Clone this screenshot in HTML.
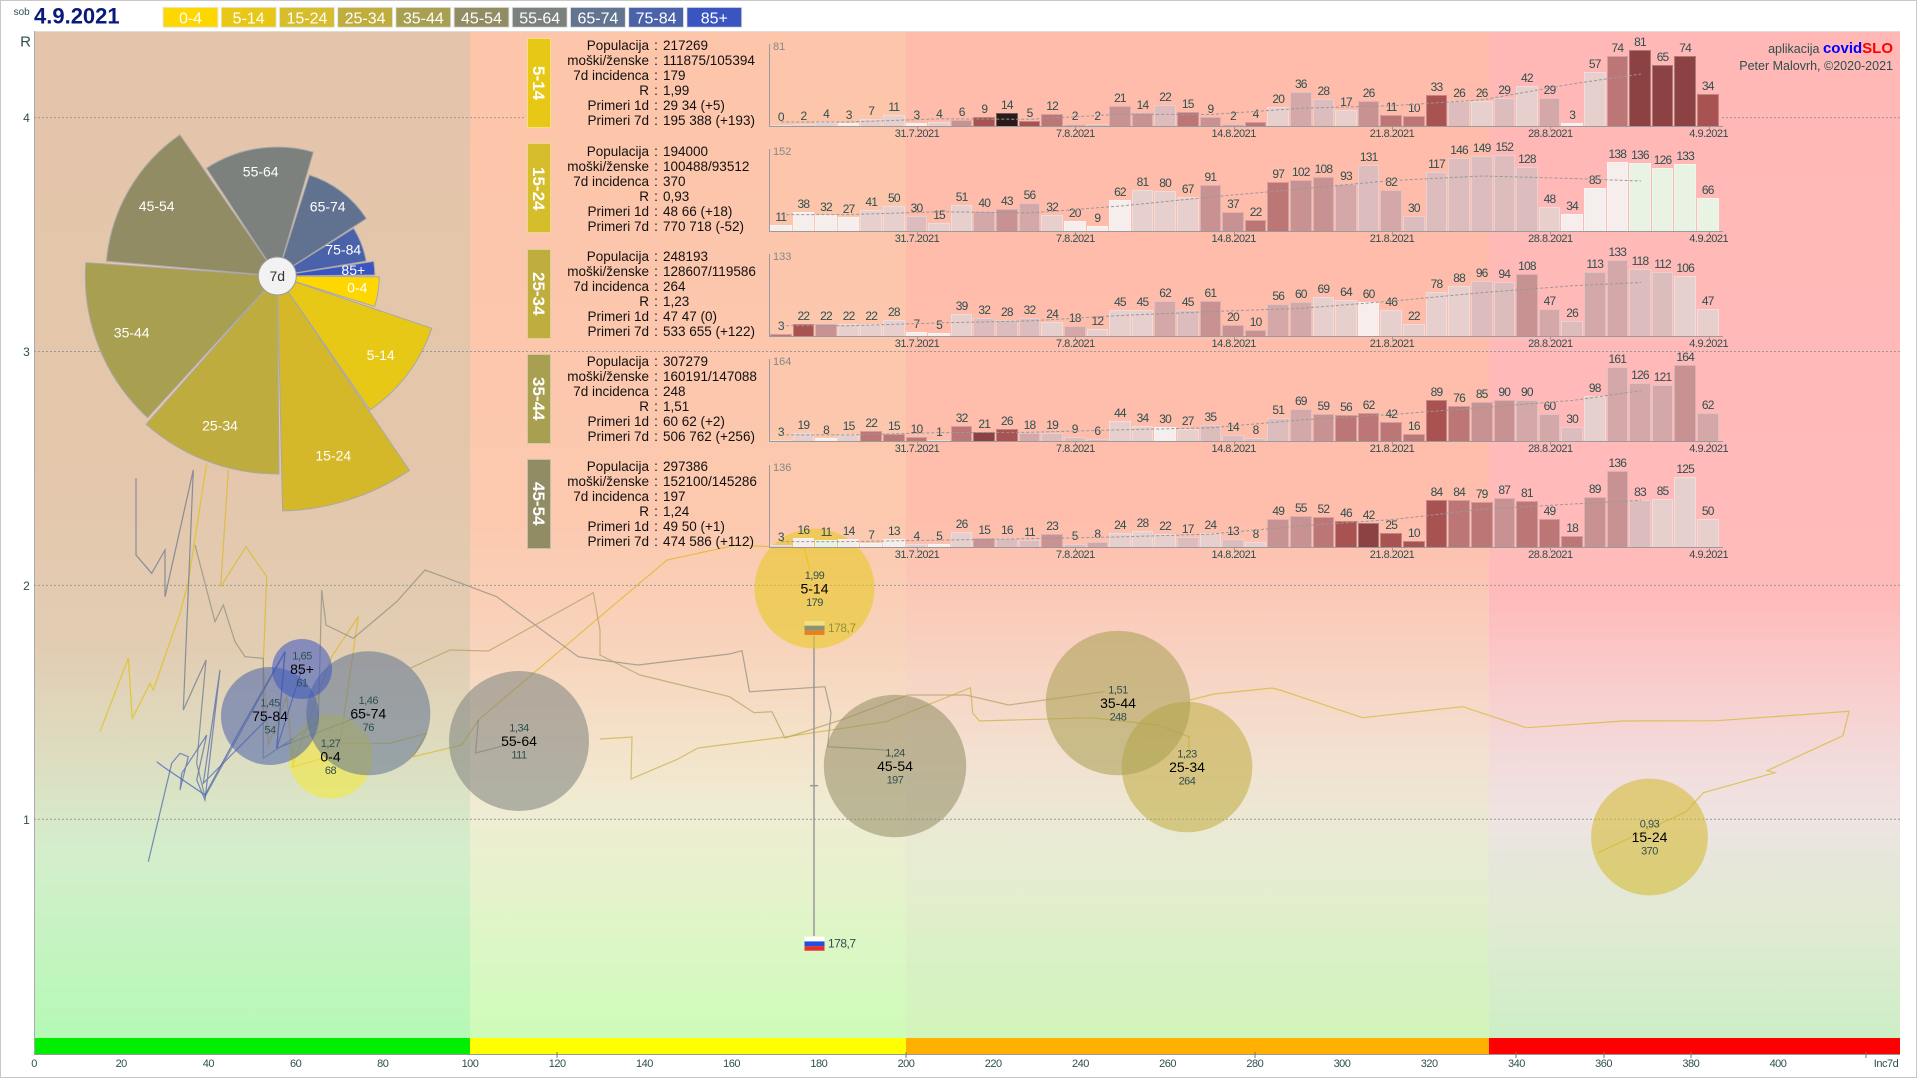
<!DOCTYPE html>
<html><head><meta charset="utf-8">
<style>
*{margin:0;padding:0}
body{width:1920px;height:1080px;overflow:hidden;background:#fff;font-family:"Liberation Sans","DejaVu Sans",sans-serif}
#root{position:relative;width:1920px;height:1080px;overflow:hidden;background:#fff}
svg text{font-family:"Liberation Sans","DejaVu Sans",sans-serif}
.pn{position:absolute;left:0;width:1920px;height:110px}
.tag{position:absolute;left:527px;top:2.6px;width:24px;height:90px;writing-mode:vertical-rl;color:#fff;font:bold 17px/24px "Liberation Sans",sans-serif;text-align:center;box-sizing:border-box;border:1px solid rgba(255,255,255,.45)}
.info{position:absolute;left:555px;top:2.8px;font:13.5px/15px "Liberation Sans",sans-serif;color:#111;white-space:nowrap}
.info .l{display:inline-block;width:94px;text-align:right}
.info .o{display:inline-block;width:14px;text-align:center}
.ax{position:absolute;left:769px;top:8px;width:953px;height:82px;border-left:1px solid #9a9a9a;border-bottom:1.5px solid #9a9a9a}
.mx{position:absolute;left:773px;top:5px;font:11px "Liberation Sans",sans-serif;color:#888}
.bars{position:absolute;left:770px;top:0;width:950px;height:90px;display:flex;align-items:flex-end}
.bars i{display:block;position:relative;width:21.62px;margin-right:1px;flex:none;height:calc(var(--v)*var(--s));box-sizing:border-box;border:1px solid rgba(255,255,255,.3);border-bottom:0}
.bars b{position:absolute;bottom:100%;left:-8px;right:-8px;text-align:center;font:12px/13px "Liberation Sans",sans-serif;letter-spacing:-0.8px;color:#2f4f4f;font-weight:normal;padding-bottom:2px}
.ma{position:absolute;left:770px;top:0}
.dt{position:absolute;top:92px;font:11px "Liberation Sans",sans-serif;letter-spacing:-0.5px;color:#2f4f4f;transform:translateX(-50%)}
.tk{position:absolute;top:90px;width:1px;height:4px;background:#999}
.bars .w{background:#f6eeec}.bars .g{background:#e8f3e4}.bars .a{background:#e6cfcd}.bars .b{background:#dcbcbc}.bars .c{background:#d4a8a8}.bars .d{background:#c99292}.bars .e{background:#bd7676}.bars .f{background:#a85252}.bars .h{background:#8c4242}.bars .k{background:#2a1a1a}
</style></head><body><div id="root">
<svg width="1920" height="1080" style="position:absolute;left:0;top:0">
<defs>
<linearGradient id="gA" gradientUnits="userSpaceOnUse" x1="0" y1="31" x2="0" y2="1038">
<stop offset="0" stop-color="#e4c5ab"/><stop offset="0.42" stop-color="#e4c6ab"/><stop offset="0.615" stop-color="#e2cdb3"/><stop offset="0.715" stop-color="#dedcc0"/><stop offset="0.815" stop-color="#d4eecc"/><stop offset="1" stop-color="#b5f9b5"/></linearGradient>
<linearGradient id="gB" gradientUnits="userSpaceOnUse" x1="0" y1="31" x2="0" y2="1038">
<stop offset="0" stop-color="#fdc5aa"/><stop offset="0.48" stop-color="#fcc8ae"/><stop offset="0.61" stop-color="#f8d3bb"/><stop offset="0.715" stop-color="#f4e3cb"/><stop offset="0.78" stop-color="#eeedd3"/><stop offset="0.85" stop-color="#e6f2cc"/><stop offset="0.93" stop-color="#d8f8c2"/><stop offset="1" stop-color="#cefbb8"/></linearGradient>
<linearGradient id="gC" gradientUnits="userSpaceOnUse" x1="0" y1="31" x2="0" y2="1038">
<stop offset="0" stop-color="#ffbcab"/><stop offset="0.48" stop-color="#ffbdab"/><stop offset="0.61" stop-color="#f9d0bf"/><stop offset="0.715" stop-color="#f3e0d0"/><stop offset="0.78" stop-color="#ece8d4"/><stop offset="0.85" stop-color="#e4edd0"/><stop offset="0.93" stop-color="#d8f1c4"/><stop offset="1" stop-color="#d2f5b9"/></linearGradient>
<linearGradient id="gD" gradientUnits="userSpaceOnUse" x1="0" y1="31" x2="0" y2="1038">
<stop offset="0" stop-color="#ffb8b5"/><stop offset="0.56" stop-color="#ffbaba"/><stop offset="0.665" stop-color="#f8d0d0"/><stop offset="0.73" stop-color="#f2dcdc"/><stop offset="0.785" stop-color="#eee4e2"/><stop offset="0.83" stop-color="#e6e7da"/><stop offset="0.88" stop-color="#e2ead4"/><stop offset="1" stop-color="#cdeec5"/></linearGradient>
</defs>
<rect x="0.5" y="0.5" width="1916" height="1077" fill="#fff" stroke="#c8c8c8"/>
<rect x="34" y="31" width="436" height="1007" fill="url(#gA)"/>
<rect x="470" y="31" width="436" height="1007" fill="url(#gB)"/>
<rect x="906" y="31" width="583" height="1007" fill="url(#gC)"/>
<rect x="1489" y="31" width="411" height="1007" fill="url(#gD)"/>
<rect x="34" y="1038" width="436" height="16" fill="#00ee00"/>
<rect x="470" y="1038" width="436" height="16" fill="#ffff00"/>
<rect x="906" y="1038" width="583" height="16" fill="#ffb000"/>
<rect x="1489" y="1038" width="411" height="16" fill="#ff0000"/>
<line x1="34" y1="31.5" x2="1900" y2="31.5" stroke="#ddd"/>
<line x1="34.5" y1="31" x2="34.5" y2="1054" stroke="#aaa"/>
<line x1="34" y1="1054.5" x2="1900" y2="1054.5" stroke="#999"/>
<g stroke="#9a9a9a" stroke-dasharray="2,2" stroke-width="1">
<line x1="34" y1="117.6" x2="526" y2="117.6"/><line x1="1722" y1="117.6" x2="1900" y2="117.6"/>
<line x1="34" y1="351.5" x2="1900" y2="351.5"/>
<line x1="34" y1="585.4" x2="1900" y2="585.4"/>
<line x1="34" y1="819.3" x2="1900" y2="819.3"/>
</g>
<g stroke="#777" stroke-width="1">
<line x1="557" y1="1052" x2="557" y2="1058"/><line x1="906" y1="1052" x2="906" y2="1058"/><line x1="1255" y1="1052" x2="1255" y2="1058"/><line x1="1516" y1="1052" x2="1516" y2="1058"/><line x1="1604" y1="1052" x2="1604" y2="1058"/><line x1="1691" y1="1052" x2="1691" y2="1058"/><line x1="1866" y1="1052" x2="1866" y2="1058"/>
</g>
<text x="25.5" y="46.7" font-size="15" fill="#2f4f4f" text-anchor="middle">R</text>
<g font-size="12" fill="#2f4f4f" text-anchor="middle">
<text x="26.5" y="122">4</text><text x="26.5" y="356">3</text><text x="26.5" y="590">2</text><text x="26.5" y="824">1</text>
</g>
<g font-size="11" fill="#2f4f4f" text-anchor="middle" letter-spacing="-0.5">
<text x="34" y="1067">0</text><text x="121.2" y="1067">20</text><text x="208.4" y="1067">40</text><text x="295.6" y="1067">60</text><text x="382.8" y="1067">80</text><text x="470" y="1067">100</text><text x="557.2" y="1067">120</text><text x="644.4" y="1067">140</text><text x="731.6" y="1067">160</text><text x="818.8" y="1067">180</text><text x="906" y="1067">200</text><text x="993.2" y="1067">220</text><text x="1080.4" y="1067">240</text><text x="1167.6" y="1067">260</text><text x="1254.8" y="1067">280</text><text x="1342" y="1067">300</text><text x="1429.2" y="1067">320</text><text x="1516.4" y="1067">340</text><text x="1603.6" y="1067">360</text><text x="1690.8" y="1067">380</text><text x="1778" y="1067">400</text><text x="1886" y="1067">Inc7d</text>
</g>
<!-- trajectories -->
<g fill="none" stroke-width="1.2" stroke-opacity="0.7">
<polyline stroke="#d8b820" points="291.7,768.3 331.7,656.7 358.3,616.7 340,743.3 390,743.3 426.7,733.3 413.3,756.7 461.7,745 478.3,720 600,616.7 667,560 736,545 804.5,548.3 810,570"/>
<polyline stroke="#e0c000" points="100,731.7 128.3,658.3 132.3,718.3 150,683.3 153.3,690 180,613.3 188.3,581.7 206.7,463.3"/>
<polyline stroke="#d8b820" points="228.3,470 220.7,586.7 246,546.7 266.7,576.7 263.3,663.3 268.3,745 286.7,696.7 293.3,766.7 330,756"/>
<polyline stroke="#4a62aa" points="148.3,861.7 171.7,763.3 180,753.3 188.3,756.7 180,790 181.7,773.3 206.7,735 196.7,780 205,800 220,670 203.3,783.3 270,716"/>
<polyline stroke="#3a55c0" points="156.7,761.7 163.3,766.7 205,795 240,730 285,651.7 276.7,748.3 302,669"/>
<polyline stroke="#617290" points="136,478.3 136,555 151.7,573.3 165,550 165,596.7 193.3,470 183.3,710 206,660 196.7,763.3 205,796.7 285,651.7 276.7,748.3 368,713"/>
<polyline stroke="#8a8a80" points="195,545 215,621.7 223.3,605 235,641.7 245,656.7 263.3,658.3 263.3,758.3 318.3,721.7 321.7,590 326,625 353.3,638.3 396.7,601.7 425,570 443.3,576.7 496.7,596.7 578.3,656.7 600,660 638,665 729.5,654 742,650.7 749.5,691.7 825,686.7 831,712.7 827.7,746.7 885.7,750"/>
<polyline stroke="#8a8a80" points="478.3,720 475.7,753 500,746.7 519,741"/>
<polyline stroke="#b0a060" points="410,668.3 450,650 488.3,651 593.3,592.7 600,630 600,655 640,675 729.5,696.7 754,712.7 772,711.7 785,738 841,720 908,695 966,695 1008.5,705 1104.4,691.7"/>
<polyline stroke="#c8b040" points="600,739 632,737 631,779 678,759 698,748 785,737 886,721.7 970.5,687.7 972.7,713 979.4,721 1091,717.7 1158,725 1189,736.7 1189,753"/>
<polyline stroke="#d4b82a" points="1190,700 1214,694 1272,688 1280,690 1362.4,717.7 1462.8,706.7 1526.4,727.7 1622.7,721 1716.6,720.7 1849,711.3 1843,735.7 1767,770.7 1775,772.7 1703.5,792.7 1686,811.7 1597.5,853"/>
</g>
<!-- pie -->
<g stroke="#a8a8a8" stroke-width="1">
<path d="M277.3,276 L379.3,276.9 A102,102 0 0 1 374.6,306.5 Z" fill="#ffd700"/>
<path d="M277.3,276 L431.7,328.3 A163,163 0 0 1 370.1,410 Z" fill="#e8c817"/>
<path d="M277.3,276 L409.4,470.4 A235,235 0 0 1 282.6,510.9 Z" fill="#d4b82a"/>
<path d="M277.3,276 L279,474 A198,198 0 0 1 146.1,424.3 Z" fill="#bfac3e"/>
<path d="M277.3,276 L147.6,417.6 A192,192 0 0 1 85.8,262.6 Z" fill="#a89f50"/>
<path d="M277.3,276 L106.5,261.1 A171.5,171.5 0 0 1 179.9,134.8 Z" fill="#928c65"/>
<path d="M277.3,276 L206.5,168.2 A129,129 0 0 1 313.3,152.1 Z" fill="#7c817d"/>
<path d="M277.3,276 L309.4,175 A106,106 0 0 1 366.4,218.6 Z" fill="#617290"/>
<path d="M277.3,276 L353.6,228.3 A90,90 0 0 1 366.1,261.1 Z" fill="#4a62aa"/>
<path d="M277.3,276 L373.7,261.4 A97.5,97.5 0 0 1 374.8,275 Z" fill="#3a55c0"/>
</g>
<circle cx="277.3" cy="276" r="19" fill="#f2f2f2" stroke="#999"/>
<text x="277.3" y="281" font-size="14" fill="#333" text-anchor="middle">7d</text>
<g font-size="14" fill="#fff" text-anchor="middle">
<text x="260.7" y="176.7">55-64</text><text x="156.7" y="211">45-54</text><text x="327.7" y="211.7">65-74</text><text x="343.3" y="254.3">75-84</text><text x="353.3" y="275">85+</text><text x="357.3" y="292.7">0-4</text><text x="131.7" y="337.3">35-44</text><text x="380.7" y="360">5-14</text><text x="220" y="430.7">25-34</text><text x="333.3" y="460.7">15-24</text>
</g>
<!-- national marker -->
<line x1="814" y1="636" x2="814" y2="936" stroke="#999" stroke-width="1.5"/>
<line x1="810" y1="785.7" x2="818" y2="785.7" stroke="#999" stroke-width="1.5"/>
<rect x="804.5" y="621" width="20" height="4.7" fill="#fff"/><rect x="804.5" y="625.7" width="20" height="4.7" fill="#2050e0"/><rect x="804.5" y="630.4" width="20" height="4.6" fill="#e03030"/>
<text x="828" y="632" font-size="12" fill="#2f4f4f" letter-spacing="-0.5">178,7</text>
<rect x="804.5" y="936.7" width="20" height="4.7" fill="#fff"/><rect x="804.5" y="941.4" width="20" height="4.7" fill="#2050e0"/><rect x="804.5" y="946.1" width="20" height="4.6" fill="#e03030"/>
<text x="828" y="947.5" font-size="12" fill="#2f4f4f" letter-spacing="-0.5">178,7</text>
<!-- bubbles -->
<g fill-opacity="0.55">
<circle cx="330.5" cy="756.7" r="42" fill="#f2e840" fill-opacity="0.6"/>
<circle cx="814.5" cy="588.5" r="60" fill="#e8c817"/>
<circle cx="1649.5" cy="837" r="58.4" fill="#d4b82a"/>
<circle cx="1187" cy="767" r="65.3" fill="#bfac3e"/>
<circle cx="1118" cy="703" r="72.3" fill="#a89f50"/>
<circle cx="895" cy="766" r="71.2" fill="#928c65"/>
<circle cx="519" cy="741" r="70" fill="#7c817d"/>
<circle cx="368.3" cy="713.3" r="62" fill="#617290"/>
<circle cx="270" cy="716" r="49" fill="#4a62aa"/>
<circle cx="302" cy="669" r="30" fill="#3a55c0"/>
</g>
<g text-anchor="middle">
<g font-size="11" fill="#2f4f4f" letter-spacing="-0.5">
<text x="330.5" y="747">1,27</text><text x="330.5" y="774">68</text>
<text x="814.5" y="579">1,99</text><text x="814.5" y="606">179</text>
<text x="1649.5" y="827.5">0,93</text><text x="1649.5" y="854.5">370</text>
<text x="1187" y="757.5">1,23</text><text x="1187" y="784.5">264</text>
<text x="1118" y="693.5">1,51</text><text x="1118" y="720.5">248</text>
<text x="895" y="756.5">1,24</text><text x="895" y="783.5">197</text>
<text x="519" y="731.5">1,34</text><text x="519" y="758.5">111</text>
<text x="368.3" y="703.8">1,46</text><text x="368.3" y="730.8">76</text>
<text x="270" y="706.5">1,45</text><text x="270" y="733.5">54</text>
<text x="302" y="659.5">1,65</text><text x="302" y="686.5">61</text>
</g>
<g font-size="14" fill="#000">
<text x="330.5" y="761.7">0-4</text>
<text x="814.5" y="593.5">5-14</text>
<text x="1649.5" y="842">15-24</text>
<text x="1187" y="772">25-34</text>
<text x="1118" y="708">35-44</text>
<text x="895" y="771">45-54</text>
<text x="519" y="746">55-64</text>
<text x="368.3" y="718.3">65-74</text>
<text x="270" y="721">75-84</text>
<text x="302" y="674">85+</text>
</g>
</g>
<!-- header -->
<text x="13.6" y="15" font-size="10" fill="#2f4f4f">sob</text>
<text x="34" y="23.3" font-size="22" font-weight="bold" fill="#0a1a7a">4.9.2021</text>
<g stroke="#e6e6e6" stroke-width="1">
<rect x="163" y="7.3" width="55" height="20" fill="#ffd700"/>
<rect x="221.2" y="7.3" width="55" height="20" fill="#e8c817"/>
<rect x="279.4" y="7.3" width="55" height="20" fill="#d5bd2b"/>
<rect x="337.6" y="7.3" width="55" height="20" fill="#bfad3e"/>
<rect x="395.8" y="7.3" width="55" height="20" fill="#a89f50"/>
<rect x="454" y="7.3" width="55" height="20" fill="#928c65"/>
<rect x="512.2" y="7.3" width="55" height="20" fill="#7c817d"/>
<rect x="570.4" y="7.3" width="55" height="20" fill="#627490"/>
<rect x="628.6" y="7.3" width="55" height="20" fill="#4a62aa"/>
<rect x="686.8" y="7.3" width="55" height="20" fill="#3a55c0"/>
</g>
<g font-size="16" fill="#fff" text-anchor="middle">
<text x="190.5" y="23.3">0-4</text><text x="248.7" y="23.3">5-14</text><text x="306.9" y="23.3">15-24</text><text x="365.1" y="23.3">25-34</text><text x="423.3" y="23.3">35-44</text><text x="481.5" y="23.3">45-54</text><text x="539.7" y="23.3">55-64</text><text x="597.9" y="23.3">65-74</text><text x="656.1" y="23.3">75-84</text><text x="714.3" y="23.3">85+</text>
</g>
<text x="1893" y="53" text-anchor="end" font-size="12.5" fill="#2f4f4f">aplikacija <tspan font-size="15" font-weight="bold" fill="#0000ff">covid</tspan><tspan font-size="15" font-weight="bold" fill="#ff0000">SLO</tspan></text>
<text x="1893" y="70" text-anchor="end" font-size="12.5" fill="#2f4f4f">Peter Malovrh, ©2020-2021</text>
</svg>

<!-- Panel 1: 5-14 -->
<div class="pn" style="top:35.7px">
<div class="tag" style="background:#e8c817">5-14</div>
<div class="info">
<div><span class="l">Populacija</span><span class="o">:</span><span>217269</span></div>
<div><span class="l">moški/ženske</span><span class="o">:</span><span>111875/105394</span></div>
<div><span class="l">7d incidenca</span><span class="o">:</span><span>179</span></div>
<div><span class="l">R</span><span class="o">:</span><span>1,99</span></div>
<div><span class="l">Primeri 1d</span><span class="o">:</span><span>29 34 (+5)</span></div>
<div><span class="l">Primeri 7d</span><span class="o">:</span><span>195 388 (+193)</span></div>
</div>
<div class="ax"></div><div class="mx">81</div>
<div class="bars" style="--s:0.9383px">
<i class="a" style="--v:0"><b>0</b></i><i class="a" style="--v:2"><b>2</b></i><i class="a" style="--v:4"><b>4</b></i><i class="w" style="--v:3"><b>3</b></i><i class="a" style="--v:7"><b>7</b></i><i class="a" style="--v:11"><b>11</b></i><i class="w" style="--v:3"><b>3</b></i><i class="a" style="--v:4"><b>4</b></i><i class="d" style="--v:6"><b>6</b></i><i class="f" style="--v:9"><b>9</b></i><i class="k" style="--v:14"><b>14</b></i><i class="f" style="--v:5"><b>5</b></i><i class="e" style="--v:12"><b>12</b></i><i class="c" style="--v:2"><b>2</b></i><i class="b" style="--v:2"><b>2</b></i><i class="d" style="--v:21"><b>21</b></i><i class="d" style="--v:14"><b>14</b></i><i class="b" style="--v:22"><b>22</b></i><i class="e" style="--v:15"><b>15</b></i><i class="d" style="--v:9"><b>9</b></i><i class="c" style="--v:2"><b>2</b></i><i class="e" style="--v:4"><b>4</b></i><i class="a" style="--v:20"><b>20</b></i><i class="c" style="--v:36"><b>36</b></i><i class="b" style="--v:28"><b>28</b></i><i class="a" style="--v:17"><b>17</b></i><i class="d" style="--v:26"><b>26</b></i><i class="e" style="--v:11"><b>11</b></i><i class="e" style="--v:10"><b>10</b></i><i class="f" style="--v:33"><b>33</b></i><i class="b" style="--v:26"><b>26</b></i><i class="a" style="--v:26"><b>26</b></i><i class="b" style="--v:29"><b>29</b></i><i class="a" style="--v:42"><b>42</b></i><i class="c" style="--v:29"><b>29</b></i><i class="w" style="--v:3"><b>3</b></i><i class="a" style="--v:57"><b>57</b></i><i class="e" style="--v:74"><b>74</b></i><i class="h" style="--v:81"><b>81</b></i><i class="h" style="--v:65"><b>65</b></i><i class="h" style="--v:74"><b>74</b></i><i class="f" style="--v:34"><b>34</b></i>
</div>
<svg class="ma" width="950" height="90"><polyline points="11.3,86 79.2,86 169.6,82.8 260.1,83.3 350.6,78.2 441.1,78.5 531.6,72.2 622,69.7 712.5,63.8 803,47.8 870.9,38" fill="none" stroke="#999" stroke-dasharray="3,2"/></svg>
<div class="tk" style="left:917px"></div><div class="tk" style="left:1075px"></div><div class="tk" style="left:1234px"></div><div class="tk" style="left:1392px"></div><div class="tk" style="left:1550px"></div><div class="tk" style="left:1709px"></div>
<div class="dt" style="left:917px">31.7.2021</div><div class="dt" style="left:1075.4px">7.8.2021</div><div class="dt" style="left:1233.7px">14.8.2021</div><div class="dt" style="left:1392px">21.8.2021</div><div class="dt" style="left:1550.4px">28.8.2021</div><div class="dt" style="left:1708.7px">4.9.2021</div>
</div>

<!-- Panel 2: 15-24 -->
<div class="pn" style="top:140.9px">
<div class="tag" style="background:#d6bd2b">15-24</div>
<div class="info">
<div><span class="l">Populacija</span><span class="o">:</span><span>194000</span></div>
<div><span class="l">moški/ženske</span><span class="o">:</span><span>100488/93512</span></div>
<div><span class="l">7d incidenca</span><span class="o">:</span><span>370</span></div>
<div><span class="l">R</span><span class="o">:</span><span>0,93</span></div>
<div><span class="l">Primeri 1d</span><span class="o">:</span><span>48 66 (+18)</span></div>
<div><span class="l">Primeri 7d</span><span class="o">:</span><span>770 718 (-52)</span></div>
</div>
<div class="ax"></div><div class="mx">152</div>
<div class="bars" style="--s:0.5px">
<i class="w" style="--v:11"><b>11</b></i><i class="w" style="--v:38"><b>38</b></i><i class="w" style="--v:32"><b>32</b></i><i class="w" style="--v:27"><b>27</b></i><i class="a" style="--v:41"><b>41</b></i><i class="a" style="--v:50"><b>50</b></i><i class="b" style="--v:30"><b>30</b></i><i class="a" style="--v:15"><b>15</b></i><i class="a" style="--v:51"><b>51</b></i><i class="c" style="--v:40"><b>40</b></i><i class="d" style="--v:43"><b>43</b></i><i class="c" style="--v:56"><b>56</b></i><i class="a" style="--v:32"><b>32</b></i><i class="w" style="--v:20"><b>20</b></i><i class="w" style="--v:9"><b>9</b></i><i class="w" style="--v:62"><b>62</b></i><i class="a" style="--v:81"><b>81</b></i><i class="a" style="--v:80"><b>80</b></i><i class="a" style="--v:67"><b>67</b></i><i class="d" style="--v:91"><b>91</b></i><i class="d" style="--v:37"><b>37</b></i><i class="e" style="--v:22"><b>22</b></i><i class="e" style="--v:97"><b>97</b></i><i class="d" style="--v:102"><b>102</b></i><i class="d" style="--v:108"><b>108</b></i><i class="c" style="--v:93"><b>93</b></i><i class="b" style="--v:131"><b>131</b></i><i class="c" style="--v:82"><b>82</b></i><i class="b" style="--v:30"><b>30</b></i><i class="b" style="--v:117"><b>117</b></i><i class="b" style="--v:146"><b>146</b></i><i class="b" style="--v:149"><b>149</b></i><i class="b" style="--v:152"><b>152</b></i><i class="b" style="--v:128"><b>128</b></i><i class="a" style="--v:48"><b>48</b></i><i class="w" style="--v:34"><b>34</b></i><i class="w" style="--v:85"><b>85</b></i><i class="w" style="--v:138"><b>138</b></i><i class="g" style="--v:136"><b>136</b></i><i class="g" style="--v:126"><b>126</b></i><i class="g" style="--v:133"><b>133</b></i><i class="g" style="--v:66"><b>66</b></i>
</div>
<svg class="ma" width="950" height="90"><polyline points="11.3,73.6 79.2,73.6 169.6,70.7 260.1,72 350.6,65 441.1,56 531.6,47.8 622,39.5 712.5,35 803,37.5 870.9,40" fill="none" stroke="#999" stroke-dasharray="3,2"/></svg>
<div class="tk" style="left:917px"></div><div class="tk" style="left:1075px"></div><div class="tk" style="left:1234px"></div><div class="tk" style="left:1392px"></div><div class="tk" style="left:1550px"></div><div class="tk" style="left:1709px"></div>
<div class="dt" style="left:917px">31.7.2021</div><div class="dt" style="left:1075.4px">7.8.2021</div><div class="dt" style="left:1233.7px">14.8.2021</div><div class="dt" style="left:1392px">21.8.2021</div><div class="dt" style="left:1550.4px">28.8.2021</div><div class="dt" style="left:1708.7px">4.9.2021</div>
</div>

<!-- Panel 3: 25-34 -->
<div class="pn" style="top:246.1px">
<div class="tag" style="background:#bfad3e">25-34</div>
<div class="info">
<div><span class="l">Populacija</span><span class="o">:</span><span>248193</span></div>
<div><span class="l">moški/ženske</span><span class="o">:</span><span>128607/119586</span></div>
<div><span class="l">7d incidenca</span><span class="o">:</span><span>264</span></div>
<div><span class="l">R</span><span class="o">:</span><span>1,23</span></div>
<div><span class="l">Primeri 1d</span><span class="o">:</span><span>47 47 (0)</span></div>
<div><span class="l">Primeri 7d</span><span class="o">:</span><span>533 655 (+122)</span></div>
</div>
<div class="ax"></div><div class="mx">133</div>
<div class="bars" style="--s:0.5714px">
<i class="e" style="--v:3"><b>3</b></i><i class="f" style="--v:22"><b>22</b></i><i class="d" style="--v:22"><b>22</b></i><i class="a" style="--v:22"><b>22</b></i><i class="a" style="--v:22"><b>22</b></i><i class="a" style="--v:28"><b>28</b></i><i class="w" style="--v:7"><b>7</b></i><i class="w" style="--v:5"><b>5</b></i><i class="a" style="--v:39"><b>39</b></i><i class="b" style="--v:32"><b>32</b></i><i class="b" style="--v:28"><b>28</b></i><i class="b" style="--v:32"><b>32</b></i><i class="a" style="--v:24"><b>24</b></i><i class="c" style="--v:18"><b>18</b></i><i class="a" style="--v:12"><b>12</b></i><i class="a" style="--v:45"><b>45</b></i><i class="a" style="--v:45"><b>45</b></i><i class="c" style="--v:62"><b>62</b></i><i class="b" style="--v:45"><b>45</b></i><i class="d" style="--v:61"><b>61</b></i><i class="d" style="--v:20"><b>20</b></i><i class="d" style="--v:10"><b>10</b></i><i class="c" style="--v:56"><b>56</b></i><i class="c" style="--v:60"><b>60</b></i><i class="a" style="--v:69"><b>69</b></i><i class="a" style="--v:64"><b>64</b></i><i class="w" style="--v:60"><b>60</b></i><i class="a" style="--v:46"><b>46</b></i><i class="a" style="--v:22"><b>22</b></i><i class="a" style="--v:78"><b>78</b></i><i class="a" style="--v:88"><b>88</b></i><i class="b" style="--v:96"><b>96</b></i><i class="b" style="--v:94"><b>94</b></i><i class="d" style="--v:108"><b>108</b></i><i class="c" style="--v:47"><b>47</b></i><i class="b" style="--v:26"><b>26</b></i><i class="c" style="--v:113"><b>113</b></i><i class="c" style="--v:133"><b>133</b></i><i class="b" style="--v:118"><b>118</b></i><i class="b" style="--v:112"><b>112</b></i><i class="a" style="--v:106"><b>106</b></i><i class="a" style="--v:47"><b>47</b></i>
</div>
<svg class="ma" width="950" height="90"><polyline points="11.3,79.7 79.2,79.7 169.6,76.9 260.1,74.9 350.6,69.5 441.1,65.6 531.6,62.3 622,55.1 712.5,46.6 803,39.7 870.9,36.5" fill="none" stroke="#999" stroke-dasharray="3,2"/></svg>
<div class="tk" style="left:917px"></div><div class="tk" style="left:1075px"></div><div class="tk" style="left:1234px"></div><div class="tk" style="left:1392px"></div><div class="tk" style="left:1550px"></div><div class="tk" style="left:1709px"></div>
<div class="dt" style="left:917px">31.7.2021</div><div class="dt" style="left:1075.4px">7.8.2021</div><div class="dt" style="left:1233.7px">14.8.2021</div><div class="dt" style="left:1392px">21.8.2021</div><div class="dt" style="left:1550.4px">28.8.2021</div><div class="dt" style="left:1708.7px">4.9.2021</div>
</div>

<!-- Panel 4: 35-44 -->
<div class="pn" style="top:351.3px">
<div class="tag" style="background:#a89f50">35-44</div>
<div class="info">
<div><span class="l">Populacija</span><span class="o">:</span><span>307279</span></div>
<div><span class="l">moški/ženske</span><span class="o">:</span><span>160191/147088</span></div>
<div><span class="l">7d incidenca</span><span class="o">:</span><span>248</span></div>
<div><span class="l">R</span><span class="o">:</span><span>1,51</span></div>
<div><span class="l">Primeri 1d</span><span class="o">:</span><span>60 62 (+2)</span></div>
<div><span class="l">Primeri 7d</span><span class="o">:</span><span>506 762 (+256)</span></div>
</div>
<div class="ax"></div><div class="mx">164</div>
<div class="bars" style="--s:0.4634px">
<i class="a" style="--v:3"><b>3</b></i><i class="a" style="--v:19"><b>19</b></i><i class="w" style="--v:8"><b>8</b></i><i class="a" style="--v:15"><b>15</b></i><i class="e" style="--v:22"><b>22</b></i><i class="e" style="--v:15"><b>15</b></i><i class="e" style="--v:10"><b>10</b></i><i class="a" style="--v:1"><b>1</b></i><i class="e" style="--v:32"><b>32</b></i><i class="h" style="--v:21"><b>21</b></i><i class="f" style="--v:26"><b>26</b></i><i class="c" style="--v:18"><b>18</b></i><i class="b" style="--v:19"><b>19</b></i><i class="b" style="--v:9"><b>9</b></i><i class="b" style="--v:6"><b>6</b></i><i class="a" style="--v:44"><b>44</b></i><i class="a" style="--v:34"><b>34</b></i><i class="w" style="--v:30"><b>30</b></i><i class="a" style="--v:27"><b>27</b></i><i class="b" style="--v:35"><b>35</b></i><i class="b" style="--v:14"><b>14</b></i><i class="b" style="--v:8"><b>8</b></i><i class="b" style="--v:51"><b>51</b></i><i class="c" style="--v:69"><b>69</b></i><i class="d" style="--v:59"><b>59</b></i><i class="e" style="--v:56"><b>56</b></i><i class="e" style="--v:62"><b>62</b></i><i class="e" style="--v:42"><b>42</b></i><i class="e" style="--v:16"><b>16</b></i><i class="f" style="--v:89"><b>89</b></i><i class="e" style="--v:76"><b>76</b></i><i class="d" style="--v:85"><b>85</b></i><i class="d" style="--v:90"><b>90</b></i><i class="c" style="--v:90"><b>90</b></i><i class="c" style="--v:60"><b>60</b></i><i class="b" style="--v:30"><b>30</b></i><i class="a" style="--v:98"><b>98</b></i><i class="c" style="--v:161"><b>161</b></i><i class="c" style="--v:126"><b>126</b></i><i class="c" style="--v:121"><b>121</b></i><i class="d" style="--v:164"><b>164</b></i><i class="c" style="--v:62"><b>62</b></i>
</div>
<svg class="ma" width="950" height="90"><polyline points="11.3,83.9 79.2,83.9 169.6,81.6 260.1,81.3 350.6,78.8 441.1,76.8 531.6,68.9 622,63.5 712.5,56.5 803,49.4 870.9,39.7" fill="none" stroke="#999" stroke-dasharray="3,2"/></svg>
<div class="tk" style="left:917px"></div><div class="tk" style="left:1075px"></div><div class="tk" style="left:1234px"></div><div class="tk" style="left:1392px"></div><div class="tk" style="left:1550px"></div><div class="tk" style="left:1709px"></div>
<div class="dt" style="left:917px">31.7.2021</div><div class="dt" style="left:1075.4px">7.8.2021</div><div class="dt" style="left:1233.7px">14.8.2021</div><div class="dt" style="left:1392px">21.8.2021</div><div class="dt" style="left:1550.4px">28.8.2021</div><div class="dt" style="left:1708.7px">4.9.2021</div>
</div>

<!-- Panel 5: 45-54 -->
<div class="pn" style="top:456.5px">
<div class="tag" style="background:#928c65">45-54</div>
<div class="info">
<div><span class="l">Populacija</span><span class="o">:</span><span>297386</span></div>
<div><span class="l">moški/ženske</span><span class="o">:</span><span>152100/145286</span></div>
<div><span class="l">7d incidenca</span><span class="o">:</span><span>197</span></div>
<div><span class="l">R</span><span class="o">:</span><span>1,24</span></div>
<div><span class="l">Primeri 1d</span><span class="o">:</span><span>49 50 (+1)</span></div>
<div><span class="l">Primeri 7d</span><span class="o">:</span><span>474 586 (+112)</span></div>
</div>
<div class="ax"></div><div class="mx">136</div>
<div class="bars" style="--s:0.5588px">
<i class="a" style="--v:3"><b>3</b></i><i class="w" style="--v:16"><b>16</b></i><i class="g" style="--v:11"><b>11</b></i><i class="w" style="--v:14"><b>14</b></i><i class="w" style="--v:7"><b>7</b></i><i class="w" style="--v:13"><b>13</b></i><i class="a" style="--v:4"><b>4</b></i><i class="w" style="--v:5"><b>5</b></i><i class="a" style="--v:26"><b>26</b></i><i class="d" style="--v:15"><b>15</b></i><i class="b" style="--v:16"><b>16</b></i><i class="b" style="--v:11"><b>11</b></i><i class="d" style="--v:23"><b>23</b></i><i class="b" style="--v:5"><b>5</b></i><i class="c" style="--v:8"><b>8</b></i><i class="a" style="--v:24"><b>24</b></i><i class="a" style="--v:28"><b>28</b></i><i class="a" style="--v:22"><b>22</b></i><i class="b" style="--v:17"><b>17</b></i><i class="a" style="--v:24"><b>24</b></i><i class="b" style="--v:13"><b>13</b></i><i class="a" style="--v:8"><b>8</b></i><i class="d" style="--v:49"><b>49</b></i><i class="d" style="--v:55"><b>55</b></i><i class="e" style="--v:52"><b>52</b></i><i class="f" style="--v:46"><b>46</b></i><i class="h" style="--v:42"><b>42</b></i><i class="f" style="--v:25"><b>25</b></i><i class="f" style="--v:10"><b>10</b></i><i class="f" style="--v:84"><b>84</b></i><i class="e" style="--v:84"><b>84</b></i><i class="e" style="--v:79"><b>79</b></i><i class="d" style="--v:87"><b>87</b></i><i class="e" style="--v:81"><b>81</b></i><i class="e" style="--v:49"><b>49</b></i><i class="e" style="--v:18"><b>18</b></i><i class="d" style="--v:89"><b>89</b></i><i class="d" style="--v:136"><b>136</b></i><i class="b" style="--v:83"><b>83</b></i><i class="a" style="--v:85"><b>85</b></i><i class="a" style="--v:125"><b>125</b></i><i class="a" style="--v:50"><b>50</b></i>
</div>
<svg class="ma" width="950" height="90"><polyline points="11.3,84.6 79.2,84.6 169.6,83.1 260.1,81.7 350.6,79.9 441.1,77.1 531.6,68.8 622,62.6 712.5,52.2 803,47 870.9,43.3" fill="none" stroke="#999" stroke-dasharray="3,2"/></svg>
<div class="tk" style="left:917px"></div><div class="tk" style="left:1075px"></div><div class="tk" style="left:1234px"></div><div class="tk" style="left:1392px"></div><div class="tk" style="left:1550px"></div><div class="tk" style="left:1709px"></div>
<div class="dt" style="left:917px">31.7.2021</div><div class="dt" style="left:1075.4px">7.8.2021</div><div class="dt" style="left:1233.7px">14.8.2021</div><div class="dt" style="left:1392px">21.8.2021</div><div class="dt" style="left:1550.4px">28.8.2021</div><div class="dt" style="left:1708.7px">4.9.2021</div>
</div>

</div></body></html>
